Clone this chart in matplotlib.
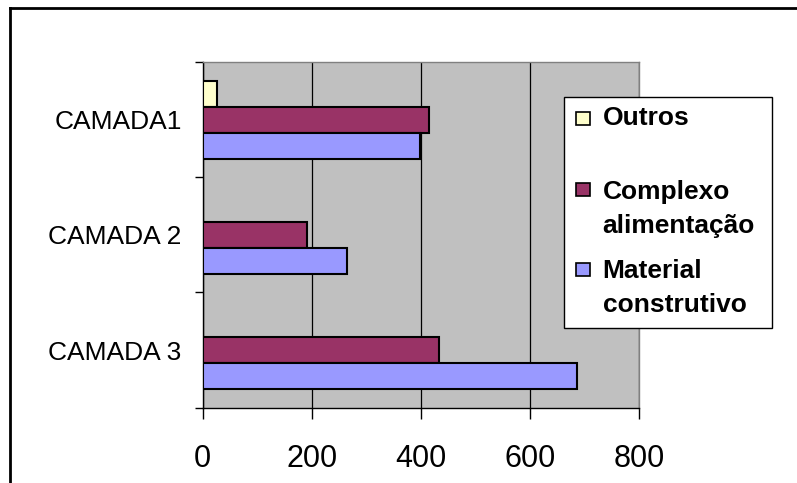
import numpy as np
import matplotlib.pyplot as plt
from matplotlib.patches import Rectangle
from matplotlib.lines import Line2D

# dados por camada
camadas = ['CAMADA1', 'CAMADA 2', 'CAMADA 3']
series = ['Outros', 'Complexo\nalimentação', 'Material\nconstrutivo']
outros = [27, np.nan, np.nan]
complexo = [415, 192, 434]
material = [398, 265, 686]
cores = ['#FFFFCC', '#993366', '#9999FF']
xticks = [0, 200, 400, 600, 800]

plt.rcParams['font.family'] = ['Liberation Sans', 'DejaVu Sans']

W, H = 797, 483
fig = plt.figure(figsize=(W / 100, H / 100), dpi=100)


def fx(px):
    return px / W


def fy(py):
    return 1 - py / H


ax = fig.add_axes([fx(202.5), fy(407.7), fx(639.3) - fx(202.5), fy(62) - fy(407.7)])
ax.set_facecolor('#C0C0C0')

y = np.arange(len(camadas))
h = 0.226
for k, (vals, cor) in enumerate(zip([outros, complexo, material], cores)):
    ax.barh(y + (k - 1) * h, vals, height=h, color=cor,
            edgecolor='black', linewidth=1.5, zorder=3)

ax.set_xlim(0, 800)
ax.set_ylim(2.5, -0.5)
ax.set_xticks(xticks)
ax.set_xticklabels([str(v) for v in xticks], fontsize=22)
ax.tick_params(axis='x', length=8, width=1, direction='out', pad=18)
ax.xaxis.grid(True, color='black', linewidth=0.9, zorder=1)
ax.set_axisbelow(True)

ax.set_yticks([-0.5, 0.5, 1.5, 2.5])
ax.set_yticklabels([])
ax.tick_params(axis='y', which='major', length=6, width=1, direction='out')
ax.set_yticks(y, minor=True)
ax.set_yticklabels(camadas, minor=True, fontsize=19)
ax.tick_params(axis='y', which='minor', length=0, pad=15)

for s in ['top', 'right']:
    ax.spines[s].set_color('#808080')
    ax.spines[s].set_linewidth(1)
for s in ['left', 'bottom']:
    ax.spines[s].set_color('black')
    ax.spines[s].set_linewidth(1)

# moldura externa
fig.add_artist(Line2D([fx(10), 1], [fy(7.5), fy(7.5)], color='black', lw=2))
fig.add_artist(Line2D([fx(10), fx(10)], [0, fy(7.5)], color='black', lw=2))

# legenda
fig.add_artist(Rectangle((fx(564.3), fy(328.3)), fx(771.7) - fx(564.3), fy(97.3) - fy(328.3),
                         transform=fig.transFigure, facecolor='white',
                         edgecolor='black', lw=1, zorder=5))
centros = [118.5, 190, 269.5]
bases = [125, 233, 311.5]  # linha de base da ultima linha de cada rotulo
for nome, cor, yc, yb in zip(series, cores, centros, bases):
    fig.add_artist(Rectangle((fx(576), fy(yc + 6.5)), fx(14), 13 / H,
                             transform=fig.transFigure, facecolor=cor,
                             edgecolor='black', lw=1.2, zorder=6))
    fig.text(fx(602.7), fy(yb), nome, fontsize=19, fontweight='bold',
             ha='left', va='baseline', linespacing=1.5, zorder=6)

fig.savefig('out.png', dpi=100)
